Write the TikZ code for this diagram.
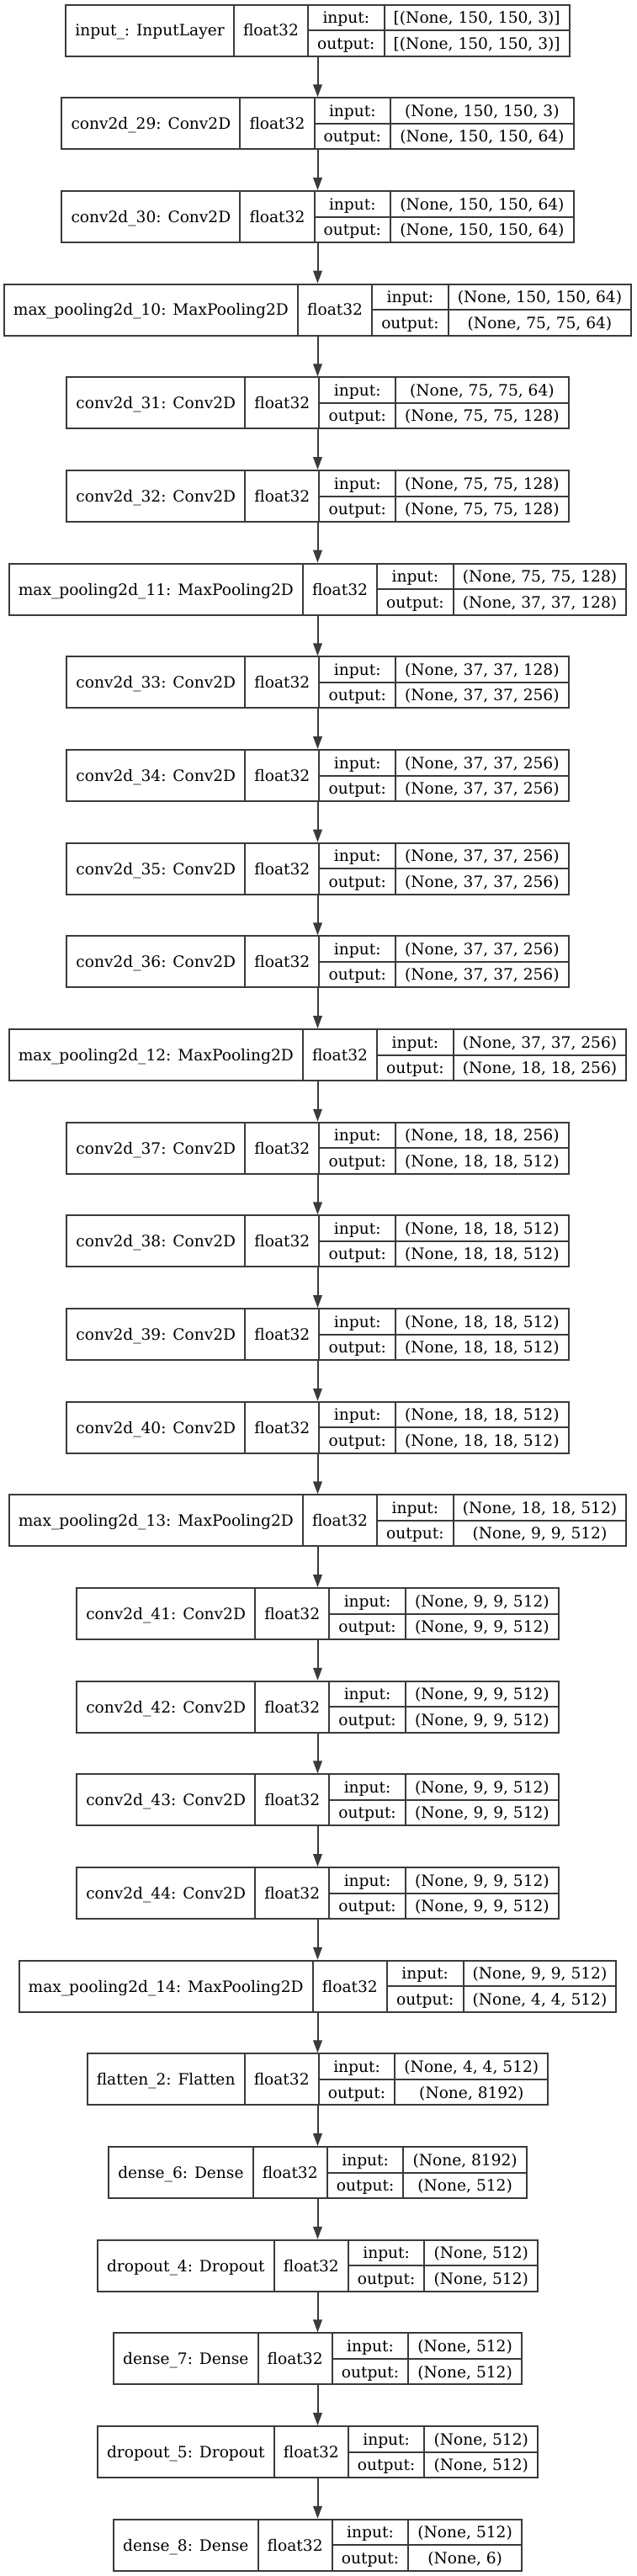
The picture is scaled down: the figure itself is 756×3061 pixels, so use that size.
\documentclass[tikz,border=0pt]{standalone}
\usepackage{fontspec}
\setmainfont{DejaVu Serif}
\usetikzlibrary{arrows.meta}
\definecolor{ink}{HTML}{3A3A3A}
\newlength\wN \newlength\wF \newlength\wL \newlength\wV
\newlength\tmpA \newlength\tmpB \newlength\tmpC \newlength\tmpD \newlength\padw
\def\fsz{18}
\newcommand\lf{\fontsize{\fsz}{\fsz}\selectfont}
\tikzset{
  frame/.style={draw=ink, line width=2pt, inner sep=0pt, minimum height=61pt, fill=white},
  divider/.style={draw=ink, line width=2pt},
  lbl/.style={inner sep=0pt, font=\lf, anchor=base},
  flow/.style={draw=ink, line width=2pt, -{Triangle[length=15pt,width=10.5pt]}},
}
\newcommand\maxw[3]{\settowidth\tmpA{\lf #2}\settowidth\tmpB{\lf #3}%
  \ifdim\tmpA>\tmpB #1=\tmpA\else #1=\tmpB\fi\addtolength#1{\padw}}
% measure a layer outside the picture and store its geometry
\newcommand\deflayer[4]{%
  \settowidth\wN{\lf #2}\addtolength\wN{\padw}%
  \settowidth\wF{\lf float32}\addtolength\wF{\padw}%
  \maxw\wL{input:}{output:}%
  \maxw\wV{#3}{#4}%
  \pgfmathsetmacro\Wt{\wN+\wF+\wL+\wV}%
  \pgfmathsetmacro\xa{377.5-\Wt/2}%
  \pgfmathsetmacro\xb{\xa+\wN}%
  \pgfmathsetmacro\xc{\xb+\wF}%
  \pgfmathsetmacro\xd{\xc+\wL}%
  \pgfmathsetmacro\xe{\xd+\wV}%
  \expandafter\xdef\csname LW#1\endcsname{\Wt}%
  \expandafter\xdef\csname Lxa#1\endcsname{\xa}%
  \expandafter\xdef\csname Lxb#1\endcsname{\xb}%
  \expandafter\xdef\csname Lxc#1\endcsname{\xc}%
  \expandafter\xdef\csname Lxd#1\endcsname{\xd}%
  \expandafter\xdef\csname Lxe#1\endcsname{\xe}%
  \expandafter\gdef\csname Lname#1\endcsname{#2}%
  \expandafter\gdef\csname Lin#1\endcsname{#3}%
  \expandafter\gdef\csname Lout#1\endcsname{#4}%
}
\newcommand\drawlayer[1]{%
  \pgfmathsetmacro\yc{-(36.2+#1*110.67)}%
  \pgfmathsetmacro\yt{\yc+30.5}%
  \pgfmathsetmacro\yb{\yc-30.5}%
  \pgfmathsetmacro\yn{\yc-\capoff}%
  \pgfmathsetmacro\yu{\yc+15.25-\capoff}%
  \pgfmathsetmacro\yl{\yc-15.25-\capoff}%
  \edef\Wt{\csname LW#1\endcsname}%
  \edef\xa{\csname Lxa#1\endcsname}%
  \edef\xb{\csname Lxb#1\endcsname}%
  \edef\xc{\csname Lxc#1\endcsname}%
  \edef\xd{\csname Lxd#1\endcsname}%
  \edef\xe{\csname Lxe#1\endcsname}%
  \pgfmathsetmacro\mA{(\xa+\xb)/2}%
  \pgfmathsetmacro\mB{(\xb+\xc)/2}%
  \pgfmathsetmacro\mC{(\xc+\xd)/2}%
  \pgfmathsetmacro\mD{(\xd+\xe)/2}%
  \node[frame, minimum width=\Wt pt] (L#1) at (377.5pt,\yc pt) {};
  \draw[divider] (\xb pt,\yt pt) -- (\xb pt,\yb pt);
  \draw[divider] (\xc pt,\yt pt) -- (\xc pt,\yb pt);
  \draw[divider] (\xd pt,\yt pt) -- (\xd pt,\yb pt);
  \draw[divider] (\xc pt,\yc pt) -- (\xe pt,\yc pt);
  \node[lbl] (L#1-name) at (\mA pt,\yn pt) {\csname Lname#1\endcsname};
  \node[lbl] (L#1-type) at (\mB pt,\yn pt) {float32};
  \node[lbl] (L#1-inl) at (\mC pt,\yu pt) {input:};
  \node[lbl] (L#1-outl) at (\mC pt,\yl pt) {output:};
  \node[lbl] (L#1-inv) at (\mD pt,\yu pt) {\csname Lin#1\endcsname};
  \node[lbl] (L#1-outv) at (\mD pt,\yl pt) {\csname Lout#1\endcsname};
}
\begin{document}
\settowidth\tmpA{\fontsize{10}{12}\selectfont max\_pooling2d\_10: MaxPooling2D}%
\pgfmathsetmacro\fsz{10*327/\tmpA}%
\pgfmathsetmacro\capoff{0.3645*\fsz}%
\settowidth\tmpA{\lf max\_pooling2d\_10: MaxPooling2D}%
\settowidth\tmpB{\lf float32}%
\settowidth\tmpC{\lf output:}%
\settowidth\tmpD{\lf (None, 150, 150, 64)}%
\pgfmathsetmacro\padv{(745.5-\tmpA-\tmpB-\tmpC-\tmpD)/4}%
\setlength\padw{\padv pt}%
\deflayer{0}{input\_: InputLayer}{[(None, 150, 150, 3)]}{[(None, 150, 150, 3)]}%
\deflayer{1}{conv2d\_29: Conv2D}{(None, 150, 150, 3)}{(None, 150, 150, 64)}%
\deflayer{2}{conv2d\_30: Conv2D}{(None, 150, 150, 64)}{(None, 150, 150, 64)}%
\deflayer{3}{max\_pooling2d\_10: MaxPooling2D}{(None, 150, 150, 64)}{(None, 75, 75, 64)}%
\deflayer{4}{conv2d\_31: Conv2D}{(None, 75, 75, 64)}{(None, 75, 75, 128)}%
\deflayer{5}{conv2d\_32: Conv2D}{(None, 75, 75, 128)}{(None, 75, 75, 128)}%
\deflayer{6}{max\_pooling2d\_11: MaxPooling2D}{(None, 75, 75, 128)}{(None, 37, 37, 128)}%
\deflayer{7}{conv2d\_33: Conv2D}{(None, 37, 37, 128)}{(None, 37, 37, 256)}%
\deflayer{8}{conv2d\_34: Conv2D}{(None, 37, 37, 256)}{(None, 37, 37, 256)}%
\deflayer{9}{conv2d\_35: Conv2D}{(None, 37, 37, 256)}{(None, 37, 37, 256)}%
\deflayer{10}{conv2d\_36: Conv2D}{(None, 37, 37, 256)}{(None, 37, 37, 256)}%
\deflayer{11}{max\_pooling2d\_12: MaxPooling2D}{(None, 37, 37, 256)}{(None, 18, 18, 256)}%
\deflayer{12}{conv2d\_37: Conv2D}{(None, 18, 18, 256)}{(None, 18, 18, 512)}%
\deflayer{13}{conv2d\_38: Conv2D}{(None, 18, 18, 512)}{(None, 18, 18, 512)}%
\deflayer{14}{conv2d\_39: Conv2D}{(None, 18, 18, 512)}{(None, 18, 18, 512)}%
\deflayer{15}{conv2d\_40: Conv2D}{(None, 18, 18, 512)}{(None, 18, 18, 512)}%
\deflayer{16}{max\_pooling2d\_13: MaxPooling2D}{(None, 18, 18, 512)}{(None, 9, 9, 512)}%
\deflayer{17}{conv2d\_41: Conv2D}{(None, 9, 9, 512)}{(None, 9, 9, 512)}%
\deflayer{18}{conv2d\_42: Conv2D}{(None, 9, 9, 512)}{(None, 9, 9, 512)}%
\deflayer{19}{conv2d\_43: Conv2D}{(None, 9, 9, 512)}{(None, 9, 9, 512)}%
\deflayer{20}{conv2d\_44: Conv2D}{(None, 9, 9, 512)}{(None, 9, 9, 512)}%
\deflayer{21}{max\_pooling2d\_14: MaxPooling2D}{(None, 9, 9, 512)}{(None, 4, 4, 512)}%
\deflayer{22}{flatten\_2: Flatten}{(None, 4, 4, 512)}{(None, 8192)}%
\deflayer{23}{dense\_6: Dense}{(None, 8192)}{(None, 512)}%
\deflayer{24}{dropout\_4: Dropout}{(None, 512)}{(None, 512)}%
\deflayer{25}{dense\_7: Dense}{(None, 512)}{(None, 512)}%
\deflayer{26}{dropout\_5: Dropout}{(None, 512)}{(None, 512)}%
\deflayer{27}{dense\_8: Dense}{(None, 512)}{(None, 6)}%
\begin{tikzpicture}[x=1pt,y=1pt]
\useasboundingbox[fill=white] (0,0) rectangle (756,-3061);
\foreach \i in {0,...,27} {\drawlayer{\i}}
\foreach \i [evaluate=\i as \j using int(\i+1)] in {0,...,26}
  \draw[flow] (L\i.south) -- (L\j.north);
\end{tikzpicture}
\end{document}
